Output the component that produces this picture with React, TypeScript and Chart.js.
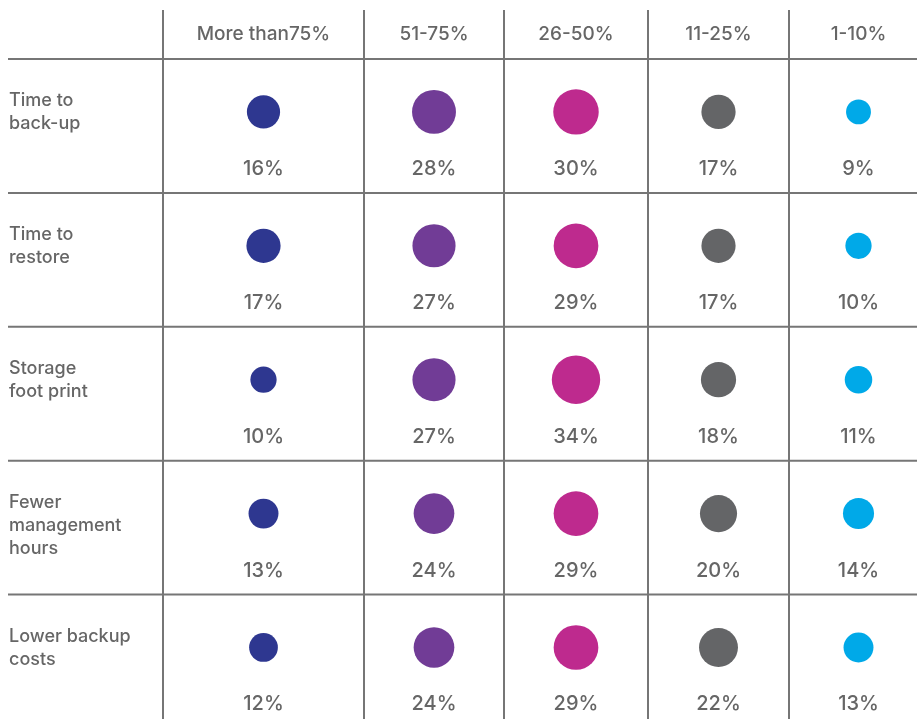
import React, { useEffect, useRef } from "react";
import { Chart, registerables } from "chart.js";

Chart.register(...registerables);

// ---- data ----
const columnLabels = ["More than75%", "51-75%", "26-50%", "11-25%", "1-10%"];
const rowLabels = [
  ["Time to", "back-up"],
  ["Time to", "restore"],
  ["Storage", "foot print"],
  ["Fewer", "management", "hours"],
  ["Lower backup", "costs"],
];
const timeToBackup = [16, 28, 30, 17, 9];
const timeToRestore = [17, 27, 29, 17, 10];
const storageFootPrint = [10, 27, 34, 18, 11];
const fewerManagementHours = [13, 24, 29, 20, 14];
const lowerBackupCosts = [12, 24, 29, 22, 13];
const rowValues = [timeToBackup, timeToRestore, storageFootPrint, fewerManagementHours, lowerBackupCosts];

// ---- styles / layout ----
const columnColors = ["#2e3790", "#713c96", "#be2a8e", "#646567", "#00a9e8"];
const columnWidths = [201, 140, 144, 141, 139];
const ROW_H = 133.9;
const TOP = 59;
const LEFT = 163;
const W = 917;
const H = 719;
const TEXT = "#666666";
const LINE = "#767676";
const FONT = "Inter, 'Noto Sans', sans-serif";

const colEdges: number[] = [0];
columnWidths.forEach((w, i) => colEdges.push(colEdges[i] + w));
const colCenters = columnWidths.map((w, i) => colEdges[i] + w / 2);

const tablePlugin = {
  id: "tablePlugin",
  beforeDatasetsDraw(chart: any) {
    const { ctx, scales } = chart;
    const xs = scales.x;
    const ys = scales.y;
    ctx.save();
    ctx.strokeStyle = LINE;
    ctx.lineWidth = 2;
    for (let i = 0; i < rowLabels.length; i++) {
      const y = ys.getPixelForValue(i);
      ctx.beginPath();
      ctx.moveTo(8, y);
      ctx.lineTo(W, y);
      ctx.stroke();
    }
    for (let i = 0; i < columnLabels.length; i++) {
      const x = xs.getPixelForValue(colEdges[i]);
      ctx.beginPath();
      ctx.moveTo(x, 10);
      ctx.lineTo(x, H);
      ctx.stroke();
    }
    ctx.restore();
  },
  afterDatasetsDraw(chart: any) {
    const { ctx, scales } = chart;
    const xs = scales.x;
    const ys = scales.y;
    ctx.save();
    ctx.fillStyle = TEXT;
    ctx.textBaseline = "middle";
    ctx.textAlign = "center";
    ctx.font = `500 19px ${FONT}`;
    columnLabels.forEach((lab, i) => {
      ctx.fillText(lab, xs.getPixelForValue(colCenters[i]), 34);
    });
    ctx.textAlign = "left";
    ctx.font = `500 18px ${FONT}`;
    rowLabels.forEach((lines, r) => {
      const top = ys.getPixelForValue(r);
      lines.forEach((ln, k) => {
        ctx.fillText(ln, 9, top + 42 + k * 23);
      });
    });
    ctx.textAlign = "center";
    ctx.font = `500 20px ${FONT}`;
    rowValues.forEach((vals, r) => {
      vals.forEach((v, c) => {
        ctx.fillText(`${v}%`, xs.getPixelForValue(colCenters[c]), ys.getPixelForValue(r + 0.82));
      });
    });
    ctx.restore();
  },
};

export default function App() {
  const ref = useRef<HTMLCanvasElement | null>(null);
  useEffect(() => {
    if (!ref.current) return;
    const datasets = columnLabels.map((lab, c) => ({
      label: lab,
      data: rowValues.map((vals, r) => ({ x: colCenters[c], y: r + 0.395 })),
      backgroundColor: columnColors[c],
      borderWidth: 0,
      pointRadius: (ctx: any) => 4.15 * Math.sqrt(rowValues[ctx.dataIndex][c]),
      pointHoverRadius: (ctx: any) => 4.15 * Math.sqrt(rowValues[ctx.dataIndex][c]),
    }));
    const chart = new Chart(ref.current, {
      type: "scatter",
      data: { datasets },
      options: {
        animation: false,
        responsive: false,
        devicePixelRatio: 1,
        layout: { autoPadding: false, padding: { left: LEFT, top: TOP, right: 0, bottom: 0 } },
        plugins: { legend: { display: false }, tooltip: { enabled: false } },
        events: [],
        scales: {
          x: { type: "linear", display: false, min: 0, max: W - LEFT },
          y: { type: "linear", display: false, reverse: true, min: 0, max: (H - TOP) / ROW_H },
        },
      },
      plugins: [tablePlugin],
    });
    return () => chart.destroy();
  }, []);
  return (
    <div style={{ position: "fixed", left: 0, top: 0, width: W, height: H, background: "#fff", overflow: "hidden" }}>
      <canvas ref={ref} width={W} height={H} style={{ display: "block", width: W, height: H }} />
    </div>
  );
}
